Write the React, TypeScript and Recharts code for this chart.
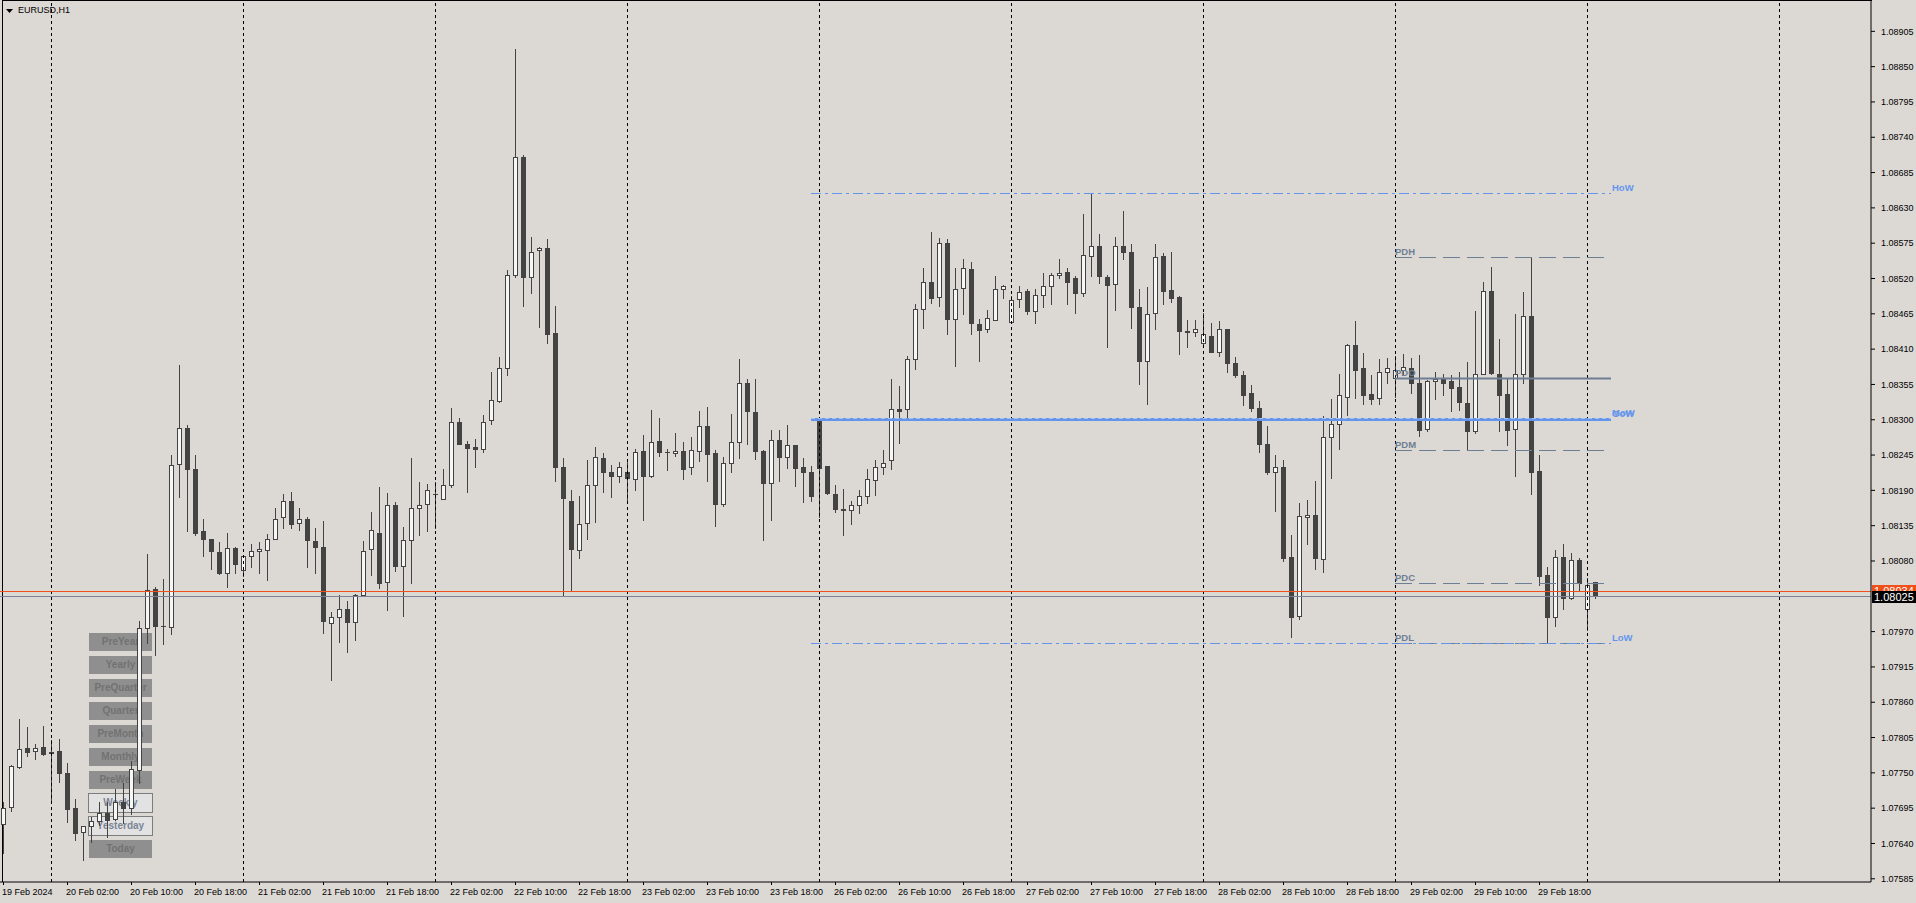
import React from "react";
import { Bar, ComposedChart, ReferenceLine, XAxis, YAxis } from "recharts";

// EURUSD H1 candles, 19 Feb 2024 18:00 .. 1 Mar 2024 01:00 (weekend skipped)
const opens = [
  1.0767, 1.07697, 1.07759, 1.07789, 1.07784, 1.07791, 1.07782, 1.07784, 1.07749, 1.07695,
  1.07658, 1.07667, 1.07675, 1.07688, 1.07678, 1.07705, 1.07695, 1.07754, 1.07975, 1.08037,
  1.07979, 1.07977, 1.08231, 1.08287, 1.08223, 1.08126, 1.08114, 1.08094, 1.08061, 1.081,
  1.08066, 1.08088, 1.08095, 1.08097, 1.08115, 1.08148, 1.08174, 1.08139, 1.08146, 1.08111,
  1.08102, 1.07983, 1.07993, 1.08006, 1.07985, 1.08027, 1.08098, 1.08124, 1.08048, 1.08167,
  1.08072, 1.08113, 1.08163, 1.08168, 1.08185, 1.08177, 1.08198, 1.08297, 1.08263, 1.08258,
  1.08254, 1.083, 1.08329, 1.0838, 1.08526, 1.0871, 1.08522, 1.08564, 1.08567, 1.08435,
  1.08226, 1.08174, 1.08097, 1.08139, 1.08198, 1.08241, 1.08219, 1.08213, 1.08219, 1.08208,
  1.08251, 1.08212, 1.08267, 1.0825, 1.08248, 1.08251, 1.08226, 1.08252, 1.08291, 1.08248,
  1.08169, 1.08232, 1.08266, 1.08358, 1.08312, 1.08251, 1.08201, 1.08269, 1.08242, 1.0826,
  1.08226, 1.08218, 1.08301, 1.08228, 1.08184, 1.08161, 1.08159, 1.08167, 1.08182, 1.08206,
  1.08227, 1.08237, 1.08316, 1.08316, 1.08394, 1.08472, 1.08514, 1.08491, 1.08575, 1.08457,
  1.08505, 1.08535, 1.08449, 1.08442, 1.08456, 1.08503, 1.08453, 1.08488, 1.08501, 1.0847,
  1.08495, 1.08509, 1.08525, 1.0853, 1.08521, 1.08497, 1.08555, 1.0857, 1.08523, 1.08511,
  1.0857, 1.08561, 1.08475, 1.08392, 1.08466, 1.08555, 1.08502, 1.08491, 1.08439, 1.08436,
  1.08419, 1.0843, 1.08406, 1.08441, 1.08389, 1.08369, 1.08341, 1.08319, 1.08262, 1.08219,
  1.08227, 1.08086, 1.07995, 1.08148, 1.08152, 1.08083, 1.08273, 1.08294, 1.08336, 1.08416,
  1.08381, 1.0834, 1.08334, 1.08375, 1.08365, 1.08377, 1.0838, 1.08358, 1.08286, 1.08361,
  1.08365, 1.08361, 1.08351, 1.08326, 1.08283, 1.08372, 1.08501, 1.08372, 1.0834, 1.08286,
  1.08372, 1.08462, 1.0822, 1.08058, 1.07993, 1.08086, 1.08022, 1.08082, 1.08006, 1.08047,
];
const highs = [
  1.07705, 1.07762, 1.07834, 1.07821, 1.07795, 1.07823, 1.07801, 1.07802, 1.07765, 1.0771,
  1.07668, 1.07682, 1.07705, 1.07705, 1.07725, 1.07734, 1.07768, 1.07986, 1.08091, 1.08039,
  1.08052, 1.08245, 1.08385, 1.08292, 1.08245, 1.08145, 1.08115, 1.08109, 1.08123, 1.08102,
  1.08089, 1.08106, 1.08109, 1.08122, 1.08162, 1.08185, 1.08187, 1.08162, 1.08148, 1.08131,
  1.08143, 1.08, 1.08027, 1.08018, 1.08029, 1.08111, 1.08157, 1.08195, 1.08186, 1.08172,
  1.08133, 1.08241, 1.08203, 1.082, 1.08203, 1.08223, 1.08318, 1.08303, 1.08267, 1.0827,
  1.08307, 1.08374, 1.08397, 1.08534, 1.08878, 1.08713, 1.08585, 1.08569, 1.08581, 1.08477,
  1.08241, 1.0819, 1.08181, 1.08237, 1.08257, 1.08248, 1.08229, 1.08234, 1.08239, 1.08254,
  1.08276, 1.08315, 1.08302, 1.08255, 1.0828, 1.08265, 1.08273, 1.08314, 1.0832, 1.08253,
  1.08242, 1.08309, 1.08395, 1.08364, 1.08363, 1.08253, 1.08284, 1.08284, 1.08292, 1.08261,
  1.08241, 1.08228, 1.08304, 1.08228, 1.08198, 1.08192, 1.08173, 1.08191, 1.08223, 1.08237,
  1.08253, 1.08364, 1.08353, 1.08399, 1.08481, 1.08536, 1.08592, 1.08583, 1.08581, 1.08537,
  1.0855, 1.08545, 1.08457, 1.08471, 1.08524, 1.0851, 1.08492, 1.08508, 1.08504, 1.08504,
  1.08528, 1.08528, 1.0855, 1.08537, 1.08524, 1.0862, 1.08653, 1.08589, 1.08525, 1.08584,
  1.08625, 1.08573, 1.08503, 1.08506, 1.08573, 1.08559, 1.08561, 1.08492, 1.08456, 1.08456,
  1.08466, 1.0845, 1.08454, 1.08441, 1.08398, 1.08376, 1.08354, 1.08329, 1.0829, 1.08245,
  1.08237, 1.08121, 1.08171, 1.08175, 1.08205, 1.08306, 1.08333, 1.08372, 1.08418, 1.08454,
  1.08404, 1.0837, 1.08395, 1.08396, 1.08399, 1.08402, 1.08396, 1.08401, 1.08362, 1.08374,
  1.08372, 1.08369, 1.08375, 1.0839, 1.0847, 1.08515, 1.08538, 1.08426, 1.08364, 1.08465,
  1.08499, 1.08554, 1.08245, 1.0807, 1.08097, 1.08107, 1.08093, 1.08084, 1.08053, 1.08047,
];
const lows = [
  1.07625, 1.07691, 1.07757, 1.07777, 1.07772, 1.07778, 1.07703, 1.07735, 1.07674, 1.07646,
  1.07615, 1.07643, 1.07669, 1.0765, 1.07677, 1.07672, 1.07686, 1.07734, 1.07952, 1.07934,
  1.0795, 1.07967, 1.08179, 1.08126, 1.08121, 1.08087, 1.08067, 1.08059, 1.08039, 1.08062,
  1.08056, 1.0807, 1.08062, 1.08051, 1.08114, 1.08132, 1.08131, 1.08129, 1.08071, 1.08061,
  1.07968, 1.07895, 1.07954, 1.07938, 1.07957, 1.08026, 1.08058, 1.08038, 1.08004, 1.08064,
  1.07995, 1.08046, 1.0812, 1.08126, 1.08131, 1.08176, 1.08195, 1.08262, 1.08187, 1.08227,
  1.08249, 1.08293, 1.08328, 1.0837, 1.08522, 1.08477, 1.08498, 1.08444, 1.08419, 1.08205,
  1.08026, 1.08034, 1.08084, 1.08115, 1.08141, 1.08187, 1.0818, 1.08203, 1.08172, 1.08191,
  1.08144, 1.08211, 1.08244, 1.08221, 1.08244, 1.08208, 1.08215, 1.08235, 1.08205, 1.08135,
  1.08166, 1.08219, 1.08241, 1.08263, 1.08239, 1.08113, 1.08144, 1.08205, 1.08225, 1.08197,
  1.08172, 1.08174, 1.08149, 1.08185, 1.08156, 1.08121, 1.08138, 1.08155, 1.08171, 1.08183,
  1.08216, 1.08223, 1.08264, 1.08301, 1.08379, 1.08443, 1.08482, 1.08477, 1.08433, 1.08383,
  1.08465, 1.08433, 1.08392, 1.08436, 1.08455, 1.0849, 1.08451, 1.08475, 1.08464, 1.08451,
  1.08476, 1.08481, 1.08521, 1.08481, 1.08467, 1.08493, 1.08524, 1.08513, 1.08414, 1.08471,
  1.08551, 1.08443, 1.08355, 1.08324, 1.08442, 1.08481, 1.08484, 1.08403, 1.08414, 1.08431,
  1.08415, 1.08406, 1.084, 1.08375, 1.08366, 1.08323, 1.08314, 1.0825, 1.08216, 1.08158,
  1.0808, 1.07961, 1.07989, 1.08106, 1.08068, 1.08063, 1.0821, 1.08255, 1.08308, 1.08334,
  1.08325, 1.08325, 1.08325, 1.08358, 1.08336, 1.0837, 1.08342, 1.08275, 1.08282, 1.08333,
  1.08339, 1.08314, 1.08315, 1.08253, 1.0828, 1.08371, 1.08371, 1.08283, 1.08261, 1.08213,
  1.08358, 1.08185, 1.08042, 1.07952, 1.07978, 1.08006, 1.08021, 1.08034, 1.07972, 1.08022,
];
const closes = [
  1.07695, 1.0776, 1.07787, 1.07783, 1.07788, 1.0778, 1.07781, 1.0775, 1.07693, 1.07656,
  1.07667, 1.07675, 1.07687, 1.07676, 1.07705, 1.07695, 1.07756, 1.07975, 1.08035, 1.07978,
  1.07978, 1.08229, 1.08287, 1.08223, 1.08124, 1.08114, 1.08096, 1.08061, 1.081, 1.08075,
  1.08087, 1.08095, 1.08098, 1.08114, 1.08146, 1.08174, 1.08138, 1.08145, 1.08112, 1.08102,
  1.07986, 1.07993, 1.08006, 1.07985, 1.08027, 1.08096, 1.08128, 1.08046, 1.08167, 1.08072,
  1.08113, 1.08162, 1.08167, 1.08191, 1.08184, 1.08198, 1.08297, 1.08263, 1.08256, 1.08254,
  1.08297, 1.0833, 1.0838, 1.08526, 1.0871, 1.08523, 1.08562, 1.08568, 1.08433, 1.08226,
  1.08178, 1.08098, 1.08137, 1.08198, 1.08242, 1.08219, 1.08213, 1.08226, 1.0821, 1.08249,
  1.08213, 1.08265, 1.0825, 1.08249, 1.08251, 1.08224, 1.08253, 1.0829, 1.08247, 1.08169,
  1.08232, 1.08266, 1.08358, 1.08314, 1.08252, 1.08202, 1.08269, 1.08242, 1.0826, 1.08225,
  1.08219, 1.08182, 1.08225, 1.08186, 1.08161, 1.0816, 1.08167, 1.08181, 1.08207, 1.08226,
  1.08233, 1.08316, 1.08314, 1.08394, 1.08472, 1.08514, 1.0849, 1.08575, 1.08457, 1.08503,
  1.08536, 1.0845, 1.0844, 1.08458, 1.08503, 1.08509, 1.08486, 1.08499, 1.0847, 1.08495,
  1.08509, 1.08525, 1.08528, 1.08515, 1.08497, 1.08556, 1.08571, 1.08524, 1.0851, 1.0857,
  1.08561, 1.08475, 1.08392, 1.08464, 1.08553, 1.08501, 1.0849, 1.08439, 1.08436, 1.08442,
  1.08433, 1.08406, 1.08442, 1.08389, 1.0837, 1.08339, 1.08319, 1.08263, 1.08219, 1.08227,
  1.08085, 1.07993, 1.0815, 1.08151, 1.08084, 1.08273, 1.08294, 1.08338, 1.08417, 1.08378,
  1.08339, 1.08332, 1.08374, 1.0838, 1.08377, 1.08382, 1.08358, 1.08284, 1.0836, 1.08364,
  1.08358, 1.0835, 1.08327, 1.08283, 1.08372, 1.085, 1.08373, 1.08338, 1.08284, 1.08372,
  1.08461, 1.08219, 1.08057, 1.07993, 1.08086, 1.08022, 1.08082, 1.08045, 1.08042, 1.08025,
];

// one label every 8 bars, starting at the first bar
const xTickLabels = [
  "19 Feb 2024", "20 Feb 02:00", "20 Feb 10:00", "20 Feb 18:00", "21 Feb 02:00",
  "21 Feb 10:00", "21 Feb 18:00", "22 Feb 02:00", "22 Feb 10:00", "22 Feb 18:00",
  "23 Feb 02:00", "23 Feb 10:00", "23 Feb 18:00", "26 Feb 02:00", "26 Feb 10:00",
  "26 Feb 18:00", "27 Feb 02:00", "27 Feb 10:00", "27 Feb 18:00", "28 Feb 02:00",
  "28 Feb 10:00", "28 Feb 18:00", "29 Feb 02:00", "29 Feb 10:00", "29 Feb 18:00",
];
const TICK_EVERY = 8;
const SLOT_COUNT = 234; // bars + empty space on the right
const daySeparators = [6, 30, 54, 78, 102, 126, 150, 174, 198, 222];

// 1.08025 sits under the bid box, so it is left out here
const priceTicks = [
  1.07585, 1.0764, 1.07695, 1.0775, 1.07805, 1.0786, 1.07915, 1.0797,
  1.0808, 1.08135, 1.0819, 1.08245, 1.083, 1.08355, 1.0841, 1.08465, 1.0852,
  1.08575, 1.0863, 1.08685, 1.0874, 1.08795, 1.0885, 1.08905,
];
const Y_MIN = 1.0758;
const Y_MAX = 1.089538;

const dayLevelNames = ["PDH", "PDO", "PDM", "PDC", "PDL"];
const dayLevelPrices = [1.08554, 1.08365, 1.08253, 1.08045, 1.07952];
const weekLevelNames = ["HoW", "OoW", "MoW", "LoW"];
const weekLevelPrices = [1.08653, 1.08301, 1.08303, 1.07952];
const DAY_START = 174;
const WEEK_START = 101;
const LEVEL_END = 201;

const BID_PRICE = 1.08025;
const ASK_PRICE = 1.08034;

const buttonLabels = ["PreYear", "Yearly", "PreQuarter", "Quarter", "PreMonth", "Monthly", "PreWeek", "Weekly", "Yesterday", "Today"];
const selectedButtons = ["Weekly", "Yesterday"];

const BG = "#dcd9d5";
const CANDLE = "#434343";
const BULL = "#f6f6f6";
const SLATE = "#6f7f93";
const BLUE = "#6495ed";
const ASK_COLOR = "#f0501a";
const BID_COLOR = "#778596";
const FONT = "'Liberation Sans', Arial, sans-serif";

const LEVEL_STYLE: Record<string, { color: string; dash?: string; width: number }> = {
  PDH: { color: SLATE, dash: "17 7", width: 1 },
  PDO: { color: SLATE, width: 2 },
  PDM: { color: SLATE, dash: "17 7", width: 1 },
  PDC: { color: SLATE, dash: "17 7", width: 1 },
  PDL: { color: SLATE, dash: "17 7", width: 1 },
  HoW: { color: BLUE, dash: "10 4 3 4", width: 1 },
  OoW: { color: BLUE, width: 3 },
  MoW: { color: "#a8c0f0", dash: "4 3", width: 1 },
  LoW: { color: BLUE, dash: "10 4 3 4", width: 1 },
};

const chartData = Array.from({ length: SLOT_COUNT }, (_, i) => ({
  i,
  o: opens[i],
  h: highs[i],
  l: lows[i],
  c: closes[i],
}));

const candleRange = (d: any) => (d.o == null ? null : [d.l, d.h]);

function Candle(props: any) {
  const { x, y, width, height, payload } = props;
  if (!payload || payload.o == null || !height) return <g />;
  const { o, h, l, c } = payload;
  const top = Math.min(y, y + height);
  const k = Math.abs(height) / (h - l);
  const toY = (p: number) => Math.round(top + (h - p) * k);
  const cx = Math.round(x + width / 2);
  const yH = toY(h);
  const yL = toY(l);
  const t = toY(Math.max(o, c));
  const b = toY(Math.min(o, c));
  return (
    <g shapeRendering="crispEdges">
      <line x1={cx + 0.5} x2={cx + 0.5} y1={yH} y2={yL + 1} stroke={CANDLE} />
      {c > o ? (
        <rect x={cx - 1.5} y={t + 0.5} width={4} height={Math.max(b - t, 1)} fill={BULL} stroke={CANDLE} />
      ) : (
        <rect x={cx - 2} y={t} width={5} height={b - t + 1} fill={CANDLE} />
      )}
    </g>
  );
}

function TimeTick(props: any) {
  const { x, y, payload } = props;
  const i = Number(payload.value);
  const label = i % TICK_EVERY === 0 ? xTickLabels[i / TICK_EVERY] : undefined;
  if (!label) return <g />;
  const px = Math.round(x) + 0.5;
  return (
    <g>
      <line x1={px} x2={px} y1={y - 3} y2={y} stroke="#000" />
      <text x={px - 1.5} y={y + 10} fontSize={9} fontFamily={FONT} fill="#000">
        {label}
      </text>
    </g>
  );
}

const daySeparatorShape = (p: any) => (
  <line x1={p.x1 + 0.5} x2={p.x1 + 0.5} y1={p.y1} y2={p.y2} stroke="#000" strokeDasharray="3 3" />
);

function levelShape(name: string, labelAtEnd: boolean) {
  const s = LEVEL_STYLE[name];
  return (p: any) => {
    const yy = Math.round(p.y1) + 0.5;
    const left = Math.min(p.x1, p.x2);
    const right = Math.max(p.x1, p.x2);
    return (
      <g>
        <line x1={left} x2={right} y1={yy} y2={yy} stroke={s.color} strokeWidth={s.width} strokeDasharray={s.dash} />
        <text
          x={labelAtEnd ? right + 1 : left}
          y={yy - 3}
          fill={name === "MoW" ? BLUE : s.color}
          fontSize={9.5}
          fontWeight="bold"
          fontFamily={FONT}
        >
          {name}
        </text>
      </g>
    );
  };
}

// line over the plot plus a price box on the axis
function priceLineShape(color: string, box: string, text: string, boxTop: number) {
  return (p: any) => {
    const yy = Math.round(p.y1) + 0.5;
    const left = Math.min(p.x1, p.x2);
    const right = Math.max(p.x1, p.x2);
    return (
      <g>
        <line x1={left} x2={right} y1={yy} y2={yy} stroke={color} />
        <rect x={right + 1} y={Math.round(p.y1) + boxTop} width={46} height={12} fill={box} />
        <text x={right + 3} y={Math.round(p.y1) + boxTop + 10} fontSize={11} fontFamily={FONT} fill="#fff">
          {text}
        </text>
      </g>
    );
  };
}

function Buttons() {
  return (
    <>
      {buttonLabels.map((label, k) => {
        const selected = selectedButtons.includes(label);
        const top = 633 + 23 * k;
        return (
          <div
            key={label}
            style={{
              position: "absolute",
              left: selected ? 88 : 89,
              top: selected ? top - 1 : top,
              width: selected ? 65 : 63,
              height: selected ? 20 : 18,
              boxSizing: "border-box",
              border: selected ? "1px solid #7d7d7d" : "none",
              background: selected ? "#e2e2e2" : "#8f8f8f",
              color: selected ? "#7b8596" : "#727272",
              font: `bold 10px ${FONT}`,
              lineHeight: "18px",
              textAlign: "center",
              whiteSpace: "nowrap",
            }}
          >
            {label}
          </div>
        );
      })}
    </>
  );
}

export default function App() {
  return (
    <div style={{ position: "relative", width: 1916, height: 903, overflow: "hidden", background: BG }}>
      <style>{"body{margin:0}"}</style>
      <div
        style={{
          position: "absolute",
          left: 2,
          top: 0,
          width: 1870,
          height: 882,
          boxSizing: "border-box",
          borderLeft: "1px solid #000",
          borderTop: "1px solid #000",
        }}
      />
      <Buttons />
      <div style={{ position: "absolute", left: -1, top: 0 }}>
        <ComposedChart
          width={1917}
          height={903}
          data={chartData}
          margin={{ top: 0, right: 0, bottom: 0, left: 0 }}
          barCategoryGap={0}
          barGap={0}
        >
          <XAxis
            dataKey="i"
            type="category"
            interval={0}
            height={21}
            tickSize={3}
            tickMargin={0}
            tickLine={false}
            axisLine={{ stroke: "#000" }}
            tick={TimeTick}
          />
          <YAxis
            orientation="right"
            width={45}
            type="number"
            domain={[Y_MIN, Y_MAX]}
            allowDataOverflow
            ticks={priceTicks}
            interval={0}
            tickSize={4}
            tickMargin={6}
            axisLine={{ stroke: "#000" }}
            tickLine={{ stroke: "#000" }}
            tick={{ fill: "#000", fontSize: 9, fontFamily: FONT }}
            tickFormatter={(v: number) => v.toFixed(5)}
          />
          {daySeparators.map((i) => (
            <ReferenceLine key={`d${i}`} x={i} shape={daySeparatorShape} />
          ))}
          <Bar dataKey={candleRange} shape={Candle} isAnimationActive={false} />
          {dayLevelNames.map((name, k) => (
            <ReferenceLine
              key={name}
              segment={[
                { x: DAY_START, y: dayLevelPrices[k] },
                { x: LEVEL_END, y: dayLevelPrices[k] },
              ]}
              shape={levelShape(name, false)}
            />
          ))}
          {weekLevelNames.map((name, k) => (
            <ReferenceLine
              key={name}
              segment={[
                { x: WEEK_START, y: weekLevelPrices[k] },
                { x: LEVEL_END, y: weekLevelPrices[k] },
              ]}
              shape={levelShape(name, true)}
            />
          ))}
          <ReferenceLine y={ASK_PRICE} shape={priceLineShape(ASK_COLOR, ASK_COLOR, ASK_PRICE.toFixed(5), -6)} />
          <ReferenceLine y={BID_PRICE} shape={priceLineShape(BID_COLOR, "#000", BID_PRICE.toFixed(5), -5)} />
        </ComposedChart>
      </div>
      <div
        style={{
          position: "absolute",
          left: 5,
          top: 4,
          font: `9px ${FONT}`,
          lineHeight: "13px",
          color: "#000",
          whiteSpace: "nowrap",
        }}
      >
        <svg width={9} height={8} style={{ verticalAlign: "middle", marginRight: 4 }}>
          <polygon points="1,2 8,2 4.5,6" fill="#000" />
        </svg>
        EURUSD,H1
      </div>
    </div>
  );
}
